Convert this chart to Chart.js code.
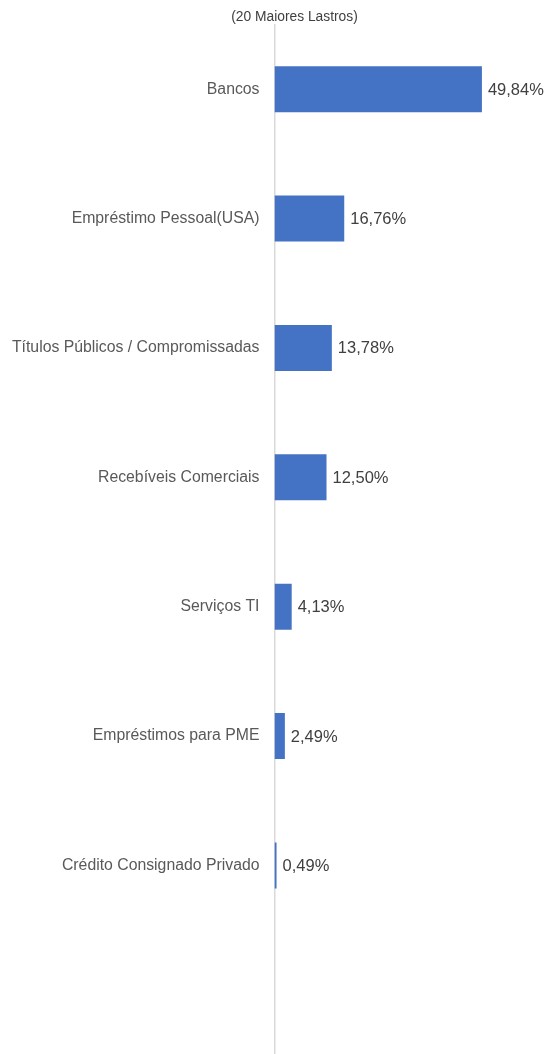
<!DOCTYPE html>
<html>
<head>
    <meta charset="utf-8">
    <title>20 Maiores Lastros</title>
    <script src="https://cdn.jsdelivr.net/npm/chart.js"></script>
    <style>
        html, body {
            margin: 0;
            padding: 0;
            background: #ffffff;
            overflow: hidden;
        }
        canvas {
            display: block;
        }
    </style>
</head>
<body>
    <!-- canvas a bit taller than the window: the axis runs past the bottom edge -->
    <canvas id="lastros" width="547" height="1084"></canvas>

    <script>
    const chartTitle = '(20 Maiores Lastros)';
    const categories = [
        'Bancos',
        'Empréstimo Pessoal(USA)',
        'Títulos Públicos / Compromissadas',
        'Recebíveis Comerciais',
        'Serviços TI',
        'Empréstimos para PME',
        'Crédito Consignado Privado',
        ''
    ];
    const shares = [49.84, 16.76, 13.78, 12.50, 4.13, 2.49, 0.49, null];

    const fontFamily = '"Liberation Sans", Arial, sans-serif';

    function pct(v) {
        return v.toFixed(2).replace('.', ',') + '%';
    }

    // value labels at the end of each bar + small title on top
    const extras = {
        id: 'extras',
        afterDatasetsDraw(chart) {
            let ctx = chart.ctx;
            let meta = chart.getDatasetMeta(0);
            ctx.save();
            ctx.font = '16.5px ' + fontFamily;
            ctx.fillStyle = '#404040';
            ctx.textAlign = 'left';
            ctx.textBaseline = 'middle';
            meta.data.forEach((bar, i) => {
                if (shares[i] === null) return;
                ctx.fillText(pct(shares[i]), bar.x + 6, bar.y + 1);
            });
            ctx.font = '13.8px ' + fontFamily;
            ctx.textAlign = 'center';
            ctx.fillText(chartTitle, 294.5, 17);
            ctx.restore();
        }
    };

    let ctx = document.getElementById('lastros').getContext('2d');
    new Chart(ctx, {
        type: 'bar',
        data: {
            labels: categories,
            datasets: [{
                data: shares,
                backgroundColor: '#4472C4',
                borderWidth: 0,
                categoryPercentage: 1,
                barPercentage: 0.355
            }]
        },
        options: {
            indexAxis: 'y',
            responsive: false,
            animation: false,
            layout: {
                padding: { top: 24, right: 2, bottom: 0, left: 0 }
            },
            plugins: {
                legend: { display: false },
                tooltip: { enabled: false }
            },
            scales: {
                x: {
                    display: false,
                    min: 0,
                    max: 65
                },
                y: {
                    grid: { display: false, drawTicks: false },
                    border: { display: true, color: '#d9d9d9', width: 1.5 },
                    afterFit: function(scale) { scale.width = 274.5; },
                    ticks: {
                        padding: 15,
                        color: '#595959',
                        font: { family: fontFamily, size: 15.8 }
                    }
                }
            }
        },
        plugins: [extras]
    });
    </script>
</body>
</html>
